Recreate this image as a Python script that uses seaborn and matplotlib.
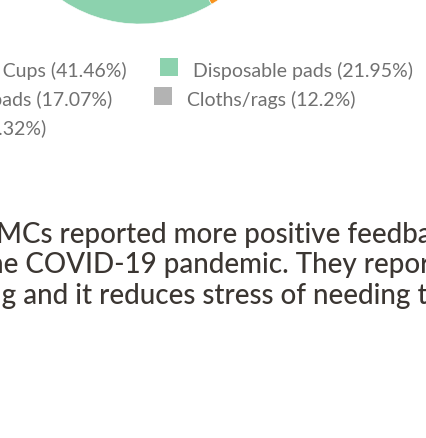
# %%
import matplotlib.pyplot as plt
import seaborn as sns

sns.set_style("white")
plt.rcParams["font.family"] = ["Lato", "DejaVu Sans"]

# %%
labels = ["Menstrual Cups", "Disposable pads", "Reusable pads", "Cloths/rags", "Tampons"]
shares = [41.46, 21.95, 17.07, 12.2, 7.32]
colors = ["#f7931e", "#8cd2ae", "#7cb5ec", "#b3b3b3", "#f15c80"]

body_lines = [
    "MCs reported more positive feedback",
    "the COVID-19 pandemic. They reported",
    "buying and it reduces stress of needing to",
]
# the screenshot cuts each body line on the left
body_hidden = ["", "th", "buyin"]

# %%
W, H = 426, 438
fig = plt.figure(figsize=(W / 100, H / 100), dpi=100)
ax = fig.add_axes([0, 0, 1, 1])

# pie sits mostly above the crop, only its bottom shows
ax.pie(
    shares,
    colors=colors,
    startangle=90,
    counterclock=False,
    center=(140, H + 116),
    radius=140,
    wedgeprops=dict(linewidth=0.4, edgecolor="white"),
)
ax.set_xlim(0, W)
ax.set_ylim(0, H)
ax.set_aspect("auto")
ax.axis("off")

fig.canvas.draw()
rend = fig.canvas.get_renderer()


def text_w(s, **kw):
    t = ax.text(0, 0, s, **kw)
    w = t.get_window_extent(rend).width
    t.remove()
    return w


# legend rows: (label index, anchor x, side); baselines in px from top
leg_size = 14
leg_rows = [[(0, 127, "right"), (1, 193, "left")],
            [(2, 112, "right"), (3, 187, "left")],
            [(4, 46, "right")]]
leg_base = [77, 106, 135]
mk = 18
for row, base in zip(leg_rows, leg_base):
    for i, x, side in row:
        s = f"{labels[i]} ({shares[i]:g}%)"
        ax.text(x, H - base, s, ha=side, va="baseline", fontsize=leg_size, color="#707070")
        left = x - text_w(s, fontsize=leg_size) if side == "right" else x
        ax.add_patch(plt.Rectangle((left - 15 - mk, H - base + 1), mk, mk,
                                   facecolor=colors[i], edgecolor="none"))

body_size = 20
body_base = [243, 273, 304]
body_shift = [-4, 4, 2]
for line, hid, base, dx in zip(body_lines, body_hidden, body_base, body_shift):
    x0 = dx - (text_w(hid, fontsize=body_size, fontweight="medium") if hid else 0)
    ax.text(x0, H - base, line, ha="left", va="baseline", fontsize=body_size,
            fontweight="medium", color="#3b3632")

fig.savefig("out.png", dpi=100)
